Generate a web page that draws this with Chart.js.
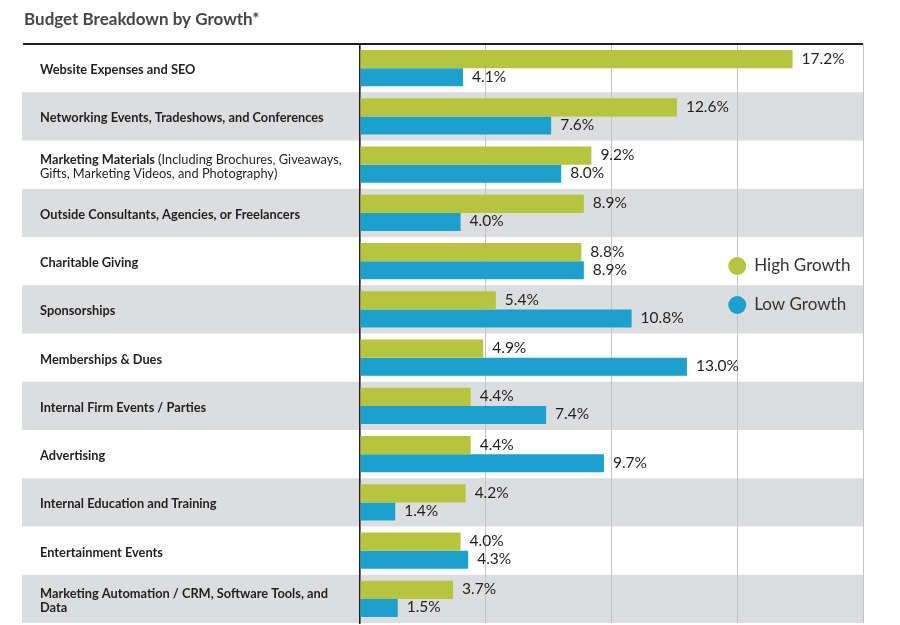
<!DOCTYPE html>
<html>
<head>
<meta charset="utf-8">
<script src="https://cdn.jsdelivr.net/npm/chart.js@4.4.0/dist/chart.umd.min.js"></script>
<style>
  body { margin: 0; background: #fff; }
  #wrap { width: 900px; height: 625px; }
</style>
</head>
<body>
<div id="wrap"><canvas id="myChart"></canvas></div>
<script>
const chartTitle = "Budget Breakdown by Growth*";
const categories = [
  ["Website Expenses and SEO"],
  ["Networking Events, Tradeshows, and Conferences"],
  ["Marketing Materials (Including Brochures, Giveaways,", "Gifts, Marketing Videos, and Photography)"],
  ["Outside Consultants, Agencies, or Freelancers"],
  ["Charitable Giving"],
  ["Sponsorships"],
  ["Memberships & Dues"],
  ["Internal Firm Events / Parties"],
  ["Advertising"],
  ["Internal Education and Training"],
  ["Entertainment Events"],
  ["Marketing Automation / CRM, Software Tools, and", "Data"],
];
const seriesNames = ["High Growth", "Low Growth"];
const highGrowth = [17.2, 12.6, 9.2, 8.9, 8.8, 5.4, 4.9, 4.4, 4.4, 4.2, 4.0, 3.7];
const lowGrowth = [4.1, 7.6, 8.0, 4.0, 8.9, 10.8, 13.0, 7.4, 9.7, 1.4, 4.3, 1.5];
const xTicks = [0, 5, 10, 15, 20];

const GREEN = "#b6c43e";
const BLUE = "#1ca1cf";
const INK = "#231f20";

// background bands, title, row labels, top rule and legend
const decorations = {
  id: "decorations",
  beforeDraw(chart) {
    const { ctx, chartArea, scales } = chart;
    const step = (chartArea.bottom - chartArea.top) / categories.length;
    ctx.save();
    ctx.fillStyle = "#ffffff";
    ctx.fillRect(0, 0, chart.width, chart.height);
    categories.forEach((c, i) => {
      if (i % 2 === 1) {
        const cy = scales.y.getPixelForValue(i);
        ctx.fillStyle = "#dcdddf";
        ctx.fillRect(22, cy - step / 2, chartArea.right - 22, step);
      }
    });
    ctx.restore();
  },
  afterDraw(chart) {
    const { ctx, chartArea, scales } = chart;
    ctx.save();
    // title
    ctx.fillStyle = "#464646";
    ctx.font = "bold 17px Lato";
    ctx.textBaseline = "alphabetic";
    ctx.textAlign = "left";
    ctx.fillText(chartTitle, 24, 25);

    // top rule
    ctx.strokeStyle = INK;
    ctx.lineWidth = 2;
    ctx.beginPath();
    ctx.moveTo(23, chartArea.top);
    ctx.lineTo(chartArea.right, chartArea.top);
    ctx.stroke();

    // row labels, text inside brackets is regular weight
    ctx.fillStyle = INK;
    categories.forEach((lines, i) => {
      const cy = scales.y.getPixelForValue(i);
      let inParen = false;
      lines.forEach((line, li) => {
        const by = cy + 6 + (li - (lines.length - 1) / 2) * 14;
        let x = 40;
        const parts = line.split(/(\(|\))/);
        parts.forEach((p) => {
          if (p === "(") inParen = true;
          ctx.font = (inParen ? "" : "bold ") + "12.8px Lato";
          ctx.fillText(p, x, by);
          x += ctx.measureText(p).width;
          if (p === ")") inParen = false;
        });
      });
    });

    // legend
    const lx = scales.x.getPixelForValue(15);
    const colors = [GREEN, BLUE];
    seriesNames.forEach((name, i) => {
      const ly = 266 + i * 39;
      ctx.fillStyle = colors[i];
      ctx.beginPath();
      ctx.arc(lx, ly, 9, 0, Math.PI * 2);
      ctx.fill();
      ctx.fillStyle = "#333333";
      ctx.font = "17px Lato";
      ctx.textBaseline = "middle";
      ctx.fillText(name, lx + 17, ly);
    });
    ctx.restore();
  },
  afterDatasetsDraw(chart) {
    const { ctx } = chart;
    ctx.save();
    ctx.fillStyle = INK;
    ctx.font = "15.5px Lato";
    ctx.textBaseline = "middle";
    ctx.textAlign = "left";
    chart.data.datasets.forEach((ds, di) => {
      chart.getDatasetMeta(di).data.forEach((bar, i) => {
        ctx.fillText(ds.data[i].toFixed(1) + "%", bar.x + 9, bar.y - 0.5);
      });
    });
    ctx.restore();
  },
};

const chartElement = document.getElementById("myChart");
const myChart = new Chart(chartElement, {
  type: "bar",
  data: {
    labels: categories,
    datasets: [
      { label: seriesNames[0], data: highGrowth, backgroundColor: GREEN },
      { label: seriesNames[1], data: lowGrowth, backgroundColor: BLUE },
    ],
  },
  options: {
    indexAxis: "y",
    responsive: true,
    maintainAspectRatio: false,
    animation: false,
    categoryPercentage: 0.75,
    barPercentage: 1,
    layout: { padding: { left: 360, right: 37, top: 44, bottom: 2 } },
    plugins: {
      legend: { display: false },
      tooltip: { enabled: false },
      title: { display: false },
    },
    scales: {
      x: {
        min: xTicks[0],
        max: xTicks[xTicks.length - 1],
        afterBuildTicks: (scale) => {
          scale.ticks = xTicks.map((v) => ({ value: v }));
        },
        ticks: { display: false },
        grid: { color: "#c4c4c4", lineWidth: 1, drawTicks: false },
        border: { display: false },
        afterFit: (scale) => {
          scale.height = 0;
        },
      },
      y: {
        ticks: { display: false },
        grid: { display: false, drawTicks: false },
        border: { display: true, color: INK, width: 1.5 },
        afterFit: (scale) => {
          scale.width = 0;
        },
      },
    },
  },
  plugins: [decorations],
});
</script>
</body>
</html>
